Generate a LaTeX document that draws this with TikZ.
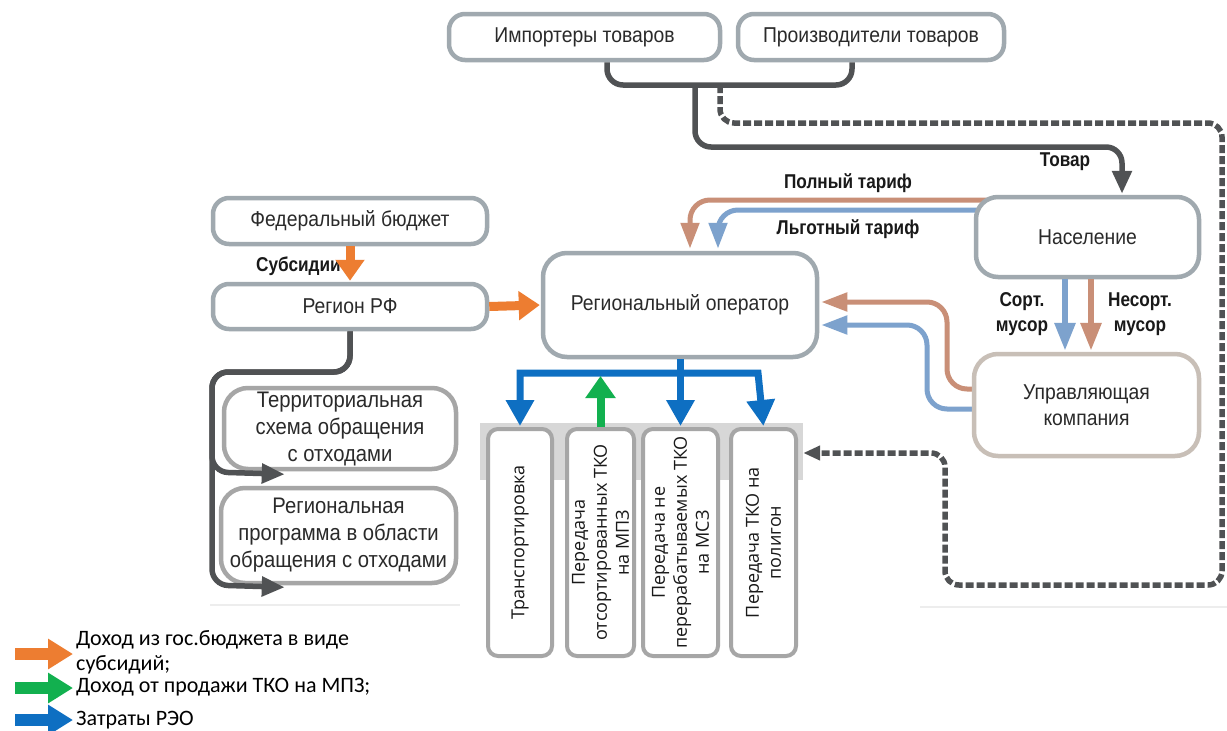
\documentclass[tikz,border=0pt]{standalone}
\usepackage{fontspec}
\setmainfont{Liberation Sans}
\newfontfamily\boxfont[FakeStretch=0.9]{Liberation Sans}
\newfontfamily\lblfont[FakeStretch=0.86]{Liberation Sans}
\newfontfamily\legfont{Carlito}
\newfontfamily\colfont{Open Sans}
\usetikzlibrary{arrows.meta,backgrounds}
\definecolor{boxc}{HTML}{A0A9AF}
\definecolor{ukc}{HTML}{C8BFB7}
\definecolor{grayc}{HTML}{A6A6A6}
\definecolor{bandc}{HTML}{D7D7D7}
\definecolor{dark}{HTML}{505254}
\definecolor{txt}{HTML}{2A2A2A}
\definecolor{tan}{HTML}{C98F77}
\definecolor{lblue}{HTML}{7DA2CD}
\definecolor{orng}{HTML}{ED7D31}
\definecolor{grn}{HTML}{12B04F}
\definecolor{reo}{HTML}{0E6FC2}
\definecolor{faintc}{HTML}{EDEDED}
\tikzset{
  reotip/.tip={Triangle[width=27pt,length=26pt]},
  box/.style={draw=boxc, line width=4.5pt, rounded corners=16pt, fill=white, text=txt,
    inner sep=0pt, align=center, font=\boxfont\fontsize{21.5}{26}\selectfont},
  bigbox/.style={box, draw=grayc, rounded corners=24pt, font=\boxfont\fontsize{22.5}{27}\selectfont},
  colbox/.style={draw=grayc, line width=4pt, rounded corners=10pt, fill=white, text=black!90,
    rotate=90, inner sep=0pt, align=center, minimum width=227pt,
    font=\colfont\fontsize{18}{22}\selectfont},
  lbl/.style={font=\lblfont\bfseries\fontsize{20}{25}\selectfont, text=black!90, align=center, inner sep=0pt},
  legtext/.style={font=\legfont\fontsize{22}{25}\selectfont, text=black, align=left, inner sep=0pt, anchor=west},
  goods/.style={draw=dark, line width=5.5pt, rounded corners=16pt},
  gtip/.style={-{Triangle[width=19pt,length=23pt]}, shorten >=1pt},
  dashline/.style={draw=dark, line width=5.5pt, dash pattern=on 8pt off 3pt, rounded corners=14pt,
    -{Triangle[width=14pt,length=17pt]}},
  tfull/.style={draw=tan, line width=5pt, rounded corners=20pt, -{Triangle[width=18pt,length=26pt]}, shorten >=2pt},
  tlgot/.style={tfull, draw=lblue},
  musor/.style={line width=6pt, -{Triangle[width=20pt,length=28pt]}, shorten >=1pt},
  fat/.style={draw=orng, line width=9pt, -{Triangle[width=28pt,length=21pt]}, shorten >=1pt},
  reoline/.style={draw=reo, line width=7pt, line join=miter},
  grnline/.style={draw=grn, line width=8pt, -{Triangle[width=29pt,length=22pt]}, shorten >=3pt},
  legarrow/.style={line width=12pt, -{Triangle[width=29pt,length=25pt]}},
  faint/.style={draw=faintc, line width=1.5pt}
}
\begin{document}
\begin{tikzpicture}[x=1pt,y=-1pt]
\useasboundingbox (0,0) rectangle (1227,731);

% faint page lines
\coordinate (f1) at (210,605); \coordinate (f2) at (460,605);
\coordinate (f3) at (920,607); \coordinate (f4) at (1227,607);
\draw[faint] (f1) -- (f2);
\draw[faint] (f3) -- (f4);

% gray band behind columns
\node[fill=bandc, minimum width=323pt, minimum height=57pt, inner sep=0pt] (band) at (641.5,451.5) {};

% boxes
\node[box, minimum width=271pt, minimum height=46pt] (imp) at (584.5,37) {Импортеры товаров};
\node[box, minimum width=266pt, minimum height=46pt] (prod) at (871,37) {Производители товаров};
\node[box, minimum width=274pt, minimum height=46pt] (fed) at (350,221) {Федеральный бюджет};
\node[box, minimum width=274pt, minimum height=45pt] (reg) at (350,306.5) {Регион РФ};
\node[box, minimum width=274pt, minimum height=104pt, rounded corners=24pt] (oper) at (680,305) {Региональный оператор};
\node[box, minimum width=223pt, minimum height=80pt, rounded corners=22pt] (nas) at (1087.5,237) {Население};
\node[box, draw=ukc, minimum width=225pt, minimum height=102pt, rounded corners=24pt] (uk) at (1086.5,405) {Управляющая\\компания};
\node[bigbox, minimum width=232pt, minimum height=81pt] (terr) at (340,428.5) {Территориальная\\схема обращения\\с отходами};
\node[bigbox, minimum width=235pt, minimum height=95pt] (prog) at (338.5,535.5) {Региональная\\программа в области\\обращения с отходами};

% columns
\node[colbox, minimum height=64pt] (c1) at (520,542.5) {Транспортировка};
\node[colbox, minimum height=67pt] (c2) at (600.5,542.5) {Передача\\отсортированных ТКО\\на МПЗ};
\node[colbox, minimum height=75pt] (c3) at (680.5,542.5) {Передача не\\перерабатываемых ТКО\\на МСЗ};
\node[colbox, minimum height=65pt] (c4) at (763.5,542.5) {Передача ТКО на\\полигон};

% connectors hidden partly behind boxes
\begin{scope}[on background layer]
\fill[white] (0,0) rectangle (1227,731);
\draw[tfull] (nas.center |- 0,200) -- (690,200) -- (oper.north -| 690,0);
\draw[tlgot] (nas.center |- 0,210) -- (718,210) -- (oper.north -| 718,0);
\draw[tfull] (uk.center |- 0,389) -- (947,389) -- (947,302) -- (oper.east |- 0,302);
\draw[tlgot] (uk.center |- 0,409) -- (927,409) -- (927,325) -- (oper.east |- 0,325);
\end{scope}

% labels
\node[lbl] (ltovar) at (1065,162) {Товар};
\node[lbl] (lfull) at (848,183) {Полный тариф};
\node[lbl] (llgot) at (848,229) {Льготный тариф};
\node[lbl, anchor=east] (lsubs) at (341,266) {Субсидии};
\node[lbl] (lsort) at (1022,314) {Сорт.\\мусор};
\node[lbl] (lnesort) at (1140,314) {Несорт.\\мусор};

% goods flow
\coordinate (jn) at (695,85);
\coordinate (dj) at (720,85);
\draw[goods] (imp.south -| 607,0) -- (607,85) -- (852,85) -- (prod.south -| 852,0);
\draw[goods, gtip] (jn) -- (695,147) -- (1122,147) -- (nas.north -| 1122,0);
\draw[dashline] (dj) -- (720,123) -- (1222,123) -- (1222,585) -- (945,585) -- (945,453) -- (band.east |- 0,453);

% waste flows
\draw[musor, draw=lblue] (nas.south -| 1065,0) -- (uk.north -| 1065,0);
\draw[musor, draw=tan] (nas.south -| 1091,0) -- (uk.north -| 1091,0);

% subsidies
\draw[fat] (fed.south) -- (reg.north);
\draw[fat] (reg.east) -- (oper.west);

% region to documents
\draw[goods, gtip] (reg.south) -- (350,372) -- (212,372) -- (212,472) -- ([xshift=64pt,yshift=-3pt]terr.south west);
\draw[goods, gtip] (reg.south) -- (350,372) -- (212,372) -- (212,585) -- ([xshift=67pt,yshift=-2pt]prog.south west);

% REO costs
\coordinate (bl) at (520,373);
\coordinate (br) at (758,373);
\draw[reoline, reotip-reotip, shorten >=1pt, shorten <=1pt] (c4.east) -- (br) -- (bl) -- (c1.east);
\draw[reoline, -reotip, shorten >=1pt] (oper.south -| c3.east) -- (c3.east);
\draw[grnline] (c2.east) -- (c2.east |- bl);

% legend
\coordinate (la1) at (15,654); \coordinate (la2) at (73,654);
\coordinate (lb1) at (15,688); \coordinate (lb2) at (73,688);
\coordinate (lc1) at (15,720); \coordinate (lc2) at (73,720);
\draw[legarrow, draw=orng] (la1) -- (la2);
\draw[legarrow, draw=grn] (lb1) -- (lb2);
\draw[legarrow, draw=reo] (lc1) -- (lc2);
\node[legtext] (lt1) at (76,652) {Доход из гос.бюджета в виде\\субсидий;};
\node[legtext] (lt2) at (76,687) {Доход от продажи ТКО на МПЗ;};
\node[legtext] (lt3) at (76,720) {Затраты РЭО};
\end{tikzpicture}
\end{document}
